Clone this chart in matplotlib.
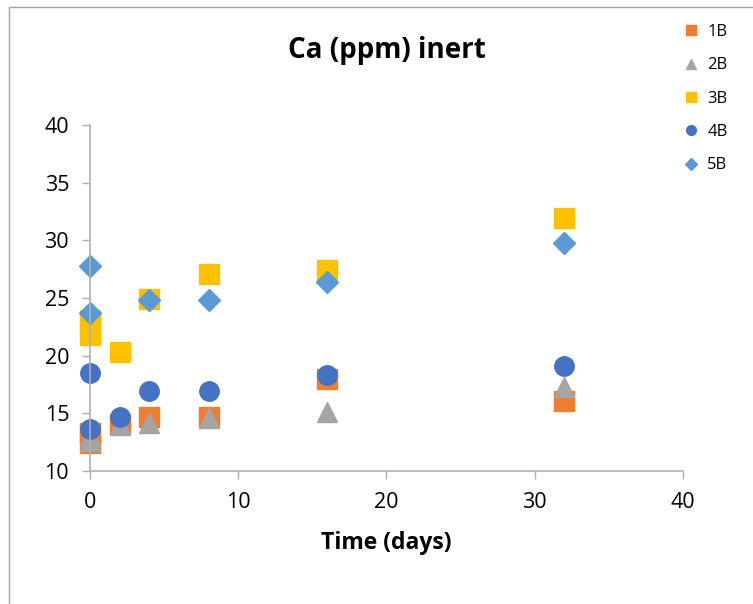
import matplotlib.pyplot as plt
from matplotlib.patches import Rectangle

# values
x_1b = [0, 0, 2, 4, 8, 16, 32]
y_1b = [13.3, 12.4, 14.1, 14.7, 14.7, 18.0, 16.1]
x_2b = [0, 0, 2, 4, 8, 16, 32]
y_2b = [13.0, 12.6, 14.0, 14.2, 14.6, 15.1, 17.3]
x_3b = [0, 0, 2, 4, 8, 16, 32]
y_3b = [23.1, 21.8, 20.3, 24.9, 27.1, 27.4, 31.9]
x_4b = [0, 0, 2, 4, 8, 16, 32]
y_4b = [18.5, 13.6, 14.7, 16.9, 16.9, 18.3, 19.1]
x_5b = [0, 0, 4, 8, 16, 32]
y_5b = [27.8, 23.7, 24.8, 24.8, 26.4, 29.8]

x_ticks = [0, 10, 20, 30, 40]
y_ticks = [10, 15, 20, 25, 30, 35, 40]

plt.rcParams['font.family'] = ['Open Sans', 'DejaVu Sans']

fig = plt.figure(figsize=(7.53, 6.04), dpi=100)
ax = fig.add_axes([0.1195, 0.2202, 0.7875, 0.5728])

# chart area border (left and top edges visible)
fig.patches.append(Rectangle((9 / 753, -0.1), 1.2, 1 - 7 / 604 + 0.1,
                             transform=fig.transFigure, fill=False,
                             edgecolor='#a6a6a6', linewidth=1.0))

ax.plot(x_1b, y_1b, 's', color='#ED7D31', markersize=14, label='1B', clip_on=False)
ax.plot(x_2b, y_2b, '^', color='#A5A5A5', markersize=14, label='2B', clip_on=False)
ax.plot(x_3b, y_3b, 's', color='#FFC000', markersize=14, label='3B', clip_on=False)
ax.plot(x_4b, y_4b, 'o', color='#4472C4', markersize=14, label='4B', clip_on=False)
ax.plot(x_5b, y_5b, 'D', color='#5B9BD5', markersize=11.5, label='5B', clip_on=False)

ax.set_xlim(0, 40)
ax.set_ylim(10, 40)
ax.set_xticks(x_ticks)
ax.set_yticks(y_ticks)
ax.tick_params(labelsize=15.5, length=6, width=1, color='#b0b0b0',
               direction='out', pad=9)
for side in ['top', 'right']:
    ax.spines[side].set_visible(False)
for side in ['left', 'bottom']:
    ax.spines[side].set_color('#b0b0b0')
    ax.spines[side].set_linewidth(1.2)

ax.set_title('Ca (ppm) inert', fontsize=20, fontweight='bold', pad=48)
ax.set_xlabel('Time (days)', fontsize=16.5, fontweight='bold', labelpad=13)

ax.legend(loc='upper left', bbox_to_anchor=(0.884, 0.985),
          bbox_transform=fig.transFigure, frameon=False, fontsize=12,
          markerscale=0.5, handletextpad=0.4, labelspacing=1.04,
          handlelength=1.2)

fig.savefig('out.png', dpi=100)
